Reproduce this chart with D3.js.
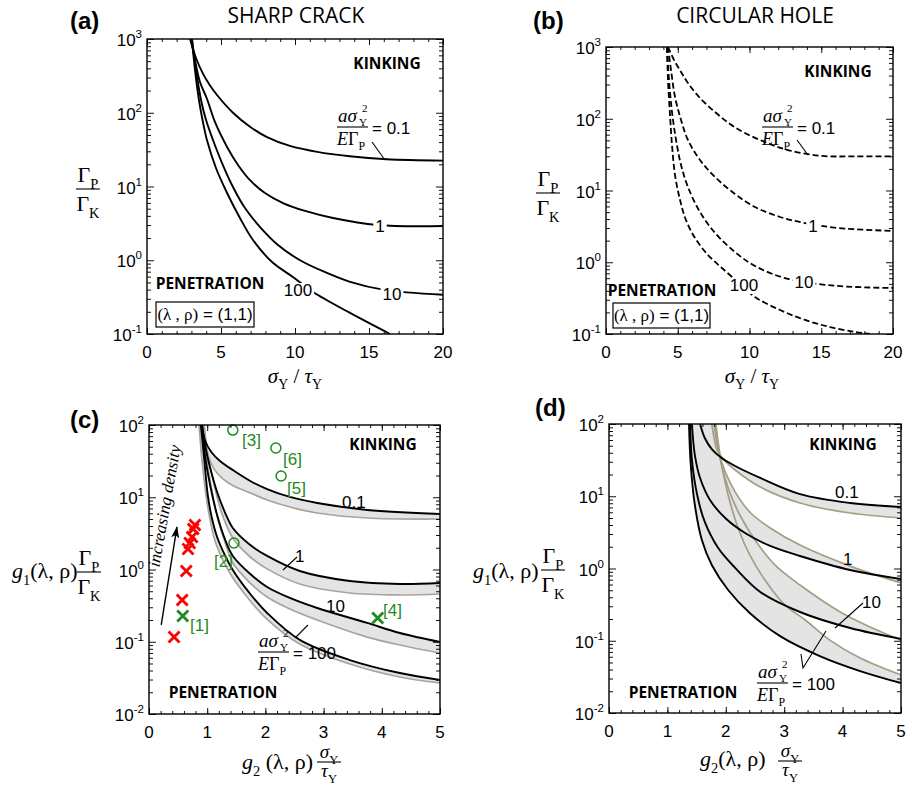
<!DOCTYPE html>
<html>
<head>
<meta charset="utf-8">
<script src="https://cdn.jsdelivr.net/npm/d3@7"></script>
<style>
  body { margin: 0; background: #fff; }
  svg { display: block; }
</style>
</head>
<body>
<script>
/* ----------------------
   Data.
   Each curve is a list of [x, y] pairs.
* ----------------------- */

// (a) sharp crack, a*sY^2/(E*GP) = 0.1, 1, 10, 100
const crack01  = [[2.91,1000],[3.31,552],[3.78,339],[4.26,234],[4.73,174],[5.81,100],[6.96,64.6],[8.11,46.8],[9.66,35.5],[11.5,29.5],[13.7,25.7],[16.2,23.4],[20,22.4]];
const crack1   = [[2.97,1000],[3.24,519],[3.58,261],[4.05,155],[4.59,75],[5.41,34.4],[6.15,19.6],[6.96,12.2],[7.97,8.17],[9.19,5.97],[10.68,4.66],[12.57,3.74],[15.54,3.01],[20,2.91]];
const crack10  = [[3.04,1000],[3.31,380],[3.65,149],[3.99,79.8],[4.46,42.7],[5.07,20.8],[5.81,9.84],[6.62,5.1],[7.64,2.82],[8.85,1.61],[10.34,1.0],[12.03,0.69],[13.72,0.51],[15.95,0.40],[20,0.34]];
const crack100 = [[3.04,1000],[3.24,380],[3.51,149],[3.78,75],[4.05,42.7],[4.66,17.8],[5.41,8.17],[6.28,3.74],[7.16,1.88],[8.45,0.946],[9.86,0.593],[11.22,0.371],[13.72,0.193],[16.42,0.1]];

// (b) circular hole
const hole01  = [[4.32,1000],[4.74,659],[5.23,449],[5.71,315],[6.55,195],[7.6,124],[8.64,84.5],[9.69,63.2],[11.08,47.4],[12.68,36.6],[15.05,30.3],[17.35,29.9],[20,29.9]];
const hole1   = [[4.32,1000],[4.53,478],[4.81,201],[5.23,96.1],[5.71,50.6],[6.55,26.6],[7.6,15.4],[8.99,8.93],[10.38,5.89],[12.13,4.27],[13.87,3.52],[16.17,3.0],[20,2.73]];
const hole10  = [[4.25,1000],[4.39,347],[4.6,124],[4.88,50.6],[5.23,22.6],[5.71,11.2],[6.55,5.01],[7.6,2.56],[8.99,1.39],[10.38,0.887],[12.68,0.585],[16.17,0.467],[20,0.438]];
const hole100 = [[4.25,1000],[4.32,347],[4.46,113],[4.6,43],[4.81,16.4],[5.16,7.38],[5.57,3.88],[6.2,2.18],[7.11,1.26],[8.08,0.832],[9.34,0.498],[10.38,0.328],[12.13,0.216],[13.87,0.157],[15.61,0.125],[17.35,0.107],[18.4,0.1]];

// (c) normalised, sharp crack: black = upper bound, grey = lower bound
const cBlack01  = [[0.91,100],[0.96,61.9],[1.07,42.3],[1.22,31.8],[1.44,23.8],[1.74,16.8],[2.03,13.0],[2.42,10.1],[2.89,8.32],[3.75,6.67],[5,5.86]];
const cGrey01   = [[0.93,100],[0.98,52.8],[1.03,34.9],[1.12,24.5],[1.25,18.5],[1.44,14.5],[1.74,11.5],[2.03,9.16],[2.42,7.33],[2.89,6.05],[3.75,5.16],[5,5.0]];
const cBlack1   = [[0.91,100],[0.98,45.1],[1.07,22.3],[1.17,11.8],[1.31,6.05],[1.44,3.75],[1.74,2.18],[2.03,1.54],[2.59,0.953],[3.45,0.693],[4.31,0.63],[5,0.65]];
const cGrey1    = [[0.95,100],[1.01,38.5],[1.12,14.8],[1.25,6.05],[1.44,2.73],[1.74,1.49],[2.03,1.02],[2.59,0.63],[3.45,0.473],[4.31,0.444],[5,0.458]];
const cBlack10  = [[0.91,100],[0.96,38.5],[1.05,14.8],[1.17,5.68],[1.31,2.56],[1.44,1.54],[1.74,0.867],[2.03,0.573],[2.42,0.404],[2.89,0.293],[3.75,0.182],[4.31,0.132],[5,0.099]];
const cGrey10   = [[0.93,100],[0.98,38.5],[1.07,13.9],[1.17,5.5],[1.31,2.33],[1.44,1.23],[1.74,0.65],[2.03,0.416],[2.42,0.284],[2.89,0.2],[3.75,0.116],[4.31,0.0902],[5,0.0698]];
const cBlack100 = [[0.89,100],[0.95,32.8],[1.01,10.7],[1.08,5.16],[1.17,2.82],[1.31,1.54],[1.44,0.984],[1.74,0.458],[2.03,0.25],[2.59,0.106],[3.45,0.0558],[4.31,0.0369],[5,0.0296]];
const cGrey100  = [[0.86,100],[0.91,32.8],[0.98,10.7],[1.05,4.84],[1.13,2.56],[1.27,1.35],[1.41,0.839],[1.7,0.404],[1.99,0.22],[2.59,0.0931],[3.45,0.0492],[4.31,0.0325],[5,0.0269]];

// (d) normalised, circular hole
const dBlack01  = [[1.56,100],[1.64,64],[1.76,45],[1.93,33.8],[2.16,26.2],[2.59,17.9],[3.27,10.7],[4.13,8.07],[5,7.1]];
const dGrey01   = [[1.76,100],[1.8,64],[1.85,43.7],[1.97,31.8],[2.16,23.1],[2.59,13.4],[3.27,8.07],[4.13,5.86],[5,5.0]];
const dBlack1   = [[1.42,100],[1.47,37.2],[1.56,17.9],[1.73,8.87],[1.99,5.0],[2.33,3.1],[2.76,2.05],[3.27,1.49],[4.13,0.953],[5,0.716]];
const dGrey1    = [[1.8,100],[1.87,43.7],[1.99,21.7],[2.16,11.5],[2.41,6.05],[2.76,3.64],[3.27,2.11],[4.13,1.08],[5,0.63]];
const dBlack10  = [[1.39,100],[1.42,31.8],[1.51,10.4],[1.64,4.41],[1.87,1.92],[2.16,1.02],[2.59,0.473],[3.27,0.25],[4.13,0.15],[5,0.106]];
const dGrey10   = [[1.82,100],[1.9,33.8],[2.04,13.0],[2.24,5.5],[2.5,2.48],[2.84,1.12],[3.27,0.59],[3.96,0.25],[4.47,0.155],[5,0.102]];
const dBlack100 = [[1.37,100],[1.4,27.1],[1.47,7.57],[1.59,2.48],[1.76,1.12],[2.04,0.504],[2.41,0.242],[2.93,0.116],[3.61,0.0615],[4.3,0.0381],[5,0.026]];
const dGrey100  = [[1.83,100],[1.92,29.8],[2.04,10.4],[2.21,3.64],[2.41,1.54],[2.67,0.693],[3.01,0.313],[3.36,0.194],[3.78,0.102],[4.3,0.0577],[5,0.0336]];

// (c) experimental points
const redCrosses   = [[0.43,0.116],[0.57,0.378],[0.64,0.953],[0.67,1.92],[0.70,2.33],[0.74,2.82],[0.76,3.64],[0.79,4.13]];
const greenCrosses = [[0.58,0.227,"[1]"],[3.93,0.213,"[4]"]];
const greenCircles = [[1.46,2.33,"[2]"],[1.44,85,"[3]"],[2.27,19.7,"[5]"],[2.18,48,"[6]"]];
const densityArrow = [[0.21,0.171],[0.48,3.87]];

// tick values
const xTicks20 = [0, 5, 10, 15, 20];
const xTicks5  = [0, 1, 2, 3, 4, 5];

/* ----------------------
   Set up
* ----------------------- */
const SANS  = "'Liberation Sans', Arial, sans-serif";
const SERIF = "'Liberation Serif', 'Times New Roman', serif";
const BOLD  = "'Open Sans', 'Liberation Sans', sans-serif";
const BAND  = "#e4e4e4";
const GREEN = "#1f8a1f";

const svg = d3.select("body").append("svg")
  .attr("width", 913).attr("height", 787);

// text with sub/superscripts: parts = [[string, flags]], i = italic, s = sub, S = sup, n = sans
function rich(g, x, y, parts, size, anchor) {
  const t = g.append("text")
    .attr("x", x).attr("y", y)
    .attr("font-size", size)
    .attr("font-family", SERIF)
    .attr("text-anchor", anchor || "start");
  let cur = 0;
  parts.forEach(([s, fl]) => {
    let off = 0, fs = size;
    if (fl.includes("s")) { off = size * 0.3;   fs = size * 0.66; }
    if (fl.includes("S")) { off = -size * 0.42; fs = size * 0.66; }
    const sp = t.append("tspan").attr("dy", off - cur).attr("font-size", fs).text(s);
    cur = off;
    if (fl.includes("i")) sp.attr("font-style", "italic");
    if (fl.includes("n")) sp.attr("font-family", SANS);
  });
  return t;
}

function makePanel(box, xDom, xMajor, xStep, yDom, id) {
  const x = d3.scaleLinear().domain(xDom).range([box.x0, box.x1]);
  const y = d3.scaleLog().domain(yDom).range([box.y1, box.y0]);
  svg.append("clipPath").attr("id", id).append("rect")
    .attr("x", box.x0).attr("y", box.y0)
    .attr("width", box.x1 - box.x0).attr("height", box.y1 - box.y0);
  const g = svg.append("g");
  const plot = g.append("g").attr("clip-path", `url(#${id})`);
  const xMinor = d3.range(xDom[0], xDom[1] + xStep / 2, xStep);
  return { x, y, g, plot, box, xMajor, xMinor, yDom };
}

function drawFrame(p) {
  const { x, y, g, box } = p;
  const lo = Math.round(Math.log10(p.yDom[0])), hi = Math.round(Math.log10(p.yDom[1]));
  const yMajor = [], yMinor = [];
  for (let e = lo; e <= hi; e++) {
    yMajor.push(Math.pow(10, e));
    if (e < hi) for (let k = 2; k <= 9; k++) yMinor.push(k * Math.pow(10, e));
  }
  const axes = [
    [d3.axisBottom(x).tickValues(p.xMajor).tickSize(-6), `translate(0,${box.y1})`],
    [d3.axisBottom(x).tickValues(p.xMinor).tickSize(-3), `translate(0,${box.y1})`],
    [d3.axisTop(x).tickValues(p.xMajor).tickSize(-6), `translate(0,${box.y0})`],
    [d3.axisTop(x).tickValues(p.xMinor).tickSize(-3), `translate(0,${box.y0})`],
    [d3.axisLeft(y).tickValues(yMajor).tickSize(-7), `translate(${box.x0},0)`],
    [d3.axisLeft(y).tickValues(yMinor).tickSize(-4), `translate(${box.x0},0)`],
    [d3.axisRight(y).tickValues(yMajor).tickSize(-7), `translate(${box.x1},0)`],
    [d3.axisRight(y).tickValues(yMinor).tickSize(-4), `translate(${box.x1},0)`]
  ];
  axes.forEach(([a, tr]) => {
    g.append("g").attr("transform", tr)
      .call(a.tickFormat(""))
      .call(s => s.select(".domain").remove())
      .selectAll("line").attr("stroke", "#111").attr("stroke-width", 1);
  });
  g.append("rect")
    .attr("x", box.x0).attr("y", box.y0)
    .attr("width", box.x1 - box.x0).attr("height", box.y1 - box.y0)
    .attr("fill", "none").attr("stroke", "#000").attr("stroke-width", 1.4);

  p.xMajor.forEach(v => {
    g.append("text").attr("x", x(v)).attr("y", box.y1 + 24)
      .attr("text-anchor", "middle").attr("font-family", SANS).attr("font-size", 17)
      .text(v);
  });
  yMajor.forEach(v => {
    const e = Math.round(Math.log10(v));
    const t = g.append("text").attr("x", box.x0 - 5).attr("y", y(v) + 7)
      .attr("text-anchor", "end").attr("font-family", SANS).attr("font-size", 17);
    t.append("tspan").text("10");
    t.append("tspan").attr("dy", -8).attr("font-size", 11.5).text(e);
  });
}

const line = (p) => d3.line()
  .x(d => p.x(d[0])).y(d => p.y(d[1]))
  .curve(d3.curveCatmullRom.alpha(0.5));

function curve(p, data, color, width, dash) {
  p.plot.append("path")
    .attr("d", line(p)(data))
    .attr("fill", "none")
    .attr("stroke", color)
    .attr("stroke-width", width)
    .attr("stroke-dasharray", dash || null);
}

// band between black (upper) and grey (lower) curve
function band(p, upper, lower) {
  const l = line(p);
  const d = l(upper) + l(lower.slice().reverse()).replace(/^M/, "L") + "Z";
  p.plot.append("path").attr("d", d).attr("fill", BAND).attr("stroke", "none");
}

// label that knocks a white hole in the curve under it
function gapLabel(g, x, y, txt) {
  const t = g.append("text").attr("x", x).attr("y", y)
    .attr("text-anchor", "middle").attr("font-family", SANS).attr("font-size", 17)
    .text(txt);
  const bb = t.node().getBBox();
  g.insert("rect", () => t.node())
    .attr("x", bb.x - 2).attr("y", bb.y + 2)
    .attr("width", bb.width + 4).attr("height", bb.height - 3)
    .attr("fill", "#fff");
}

function plainLabel(g, x, y, txt, color) {
  g.append("text").attr("x", x).attr("y", y)
    .attr("font-family", SANS).attr("font-size", 17)
    .attr("fill", color || "#000").text(txt);
}

function boldLabel(g, x, y, txt) {
  g.append("text").attr("x", x).attr("y", y)
    .attr("text-anchor", "middle")
    .attr("font-family", BOLD).attr("font-weight", 700).attr("font-size", 15.5)
    .text(txt);
}

function leader(g, pts) {
  g.append("path").attr("d", d3.line()(pts))
    .attr("fill", "none").attr("stroke", "#000").attr("stroke-width", 1.1);
}

// a*sigma_Y^2 / (E Gamma_P) = rhs; L = left of bar, B = bar y
function aFrac(g, L, B, rhs) {
  rich(g, L + 1, B - 5, [["aσ", "i"]], 19);
  rich(g, L + 22, B - 1, [["Y", ""]], 11);
  rich(g, L + 25, B - 15, [["2", ""]], 11);
  g.append("line").attr("x1", L).attr("x2", L + 31).attr("y1", B).attr("y2", B)
    .attr("stroke", "#000").attr("stroke-width", 1.1);
  rich(g, L, B + 18, [["E", "i"], ["Γ", ""], ["P", "s"]], 18);
  plainLabel(g, L + 35, B + 7, rhs);
}

function gammaFrac(g, cx, B) {
  rich(g, cx, B - 7, [["Γ", ""], ["P", "s"]], 22, "middle");
  g.append("line").attr("x1", cx - 12).attr("x2", cx + 12).attr("y1", B).attr("y2", B)
    .attr("stroke", "#000").attr("stroke-width", 1.1);
  rich(g, cx, B + 22, [["Γ", ""], ["K", "s"]], 22, "middle");
}

function sigmaTauFrac(g, cx, B) {
  rich(g, cx, B - 4, [["σ", "i"], ["Y", "s"]], 19, "middle");
  g.append("line").attr("x1", cx - 12).attr("x2", cx + 12).attr("y1", B).attr("y2", B)
    .attr("stroke", "#000").attr("stroke-width", 1.1);
  rich(g, cx, B + 15, [["τ", "i"], ["Y", "s"]], 19, "middle");
}

function lambdaBox(g, x0, y0, w, h) {
  g.append("rect").attr("x", x0).attr("y", y0).attr("width", w).attr("height", h)
    .attr("fill", "#fff").attr("stroke", "#000").attr("stroke-width", 1.2);
  rich(g, x0 + w / 2, y0 + h - 7,
    [["(λ , ρ)", ""], [" = (1,1)", "n"]], 17, "middle");
}

function panelTitle(x, y, txt) {
  svg.append("text").attr("x", x).attr("y", y)
    .attr("font-family", SANS).attr("font-weight", 700).attr("font-size", 24)
    .text(txt);
}

/* ----------------------
   (a) sharp crack
* ----------------------- */
const pa = makePanel({ x0: 147, x1: 443, y0: 39, y1: 334 }, [0, 20], xTicks20, 1, [0.1, 1000], "clipA");
[crack01, crack1, crack10, crack100].forEach(d => curve(pa, d, "#000", 1.9));
gapLabel(pa.g, 380, 232, "1");
gapLabel(pa.g, 392, 300, "10");
gapLabel(pa.g, 298, 296, "100");
aFrac(pa.g, 337, 127, "= 0.1");
leader(pa.g, [[372, 142], [385, 160]]);
boldLabel(pa.g, 387, 69, "KINKING");
boldLabel(pa.g, 210, 289, "PENETRATION");
lambdaBox(pa.g, 156, 302, 98, 25);
drawFrame(pa);
panelTitle(70, 29, "(a)");
svg.append("text").attr("x", 296).attr("y", 23).attr("text-anchor", "middle")
  .attr("font-family", BOLD).attr("font-size", 21).text("SHARP CRACK");
gammaFrac(svg, 88, 189);
rich(svg, 295, 383, [["σ", "i"], ["Y", "s"], [" / ", ""], ["τ", "i"], ["Y", "s"]], 21, "middle");

/* ----------------------
   (b) circular hole
* ----------------------- */
const pb = makePanel({ x0: 606, x1: 893, y0: 47, y1: 334 }, [0, 20], xTicks20, 1, [0.1, 1000], "clipB");
[hole01, hole1, hole10, hole100].forEach(d => curve(pb, d, "#000", 1.8, "6,3"));
gapLabel(pb.g, 813, 232, "1");
gapLabel(pb.g, 804, 288, "10");
gapLabel(pb.g, 744, 291, "100");
aFrac(pb.g, 762, 127, "= 0.1");
leader(pb.g, [[797, 140], [808, 155]]);
boldLabel(pb.g, 838, 77, "KINKING");
boldLabel(pb.g, 662, 296, "PENETRATION");
lambdaBox(pb.g, 613, 303, 97, 25);
drawFrame(pb);
panelTitle(533, 29, "(b)");
svg.append("text").attr("x", 755).attr("y", 23).attr("text-anchor", "middle")
  .attr("font-family", BOLD).attr("font-size", 21).text("CIRCULAR HOLE");
gammaFrac(svg, 548, 193);
rich(svg, 752, 383, [["σ", "i"], ["Y", "s"], [" / ", ""], ["τ", "i"], ["Y", "s"]], 21, "middle");

/* ----------------------
   (c) normalised, sharp crack
* ----------------------- */
const pc = makePanel({ x0: 149, x1: 440, y0: 425, y1: 714 }, [0, 5], xTicks5, 0.2, [0.01, 100], "clipC");
const cBands = [[cBlack01, cGrey01], [cBlack1, cGrey1], [cBlack10, cGrey10], [cBlack100, cGrey100]];
cBands.forEach(([b, gr]) => band(pc, b, gr));
cBands.forEach(([b, gr]) => curve(pc, gr, "#aaa39a", 1.7));
cBands.forEach(([b, gr]) => curve(pc, b, "#000", 1.9));

// experimental data
const cross = (g, cx, cy, r, color, w) => {
  g.append("path")
    .attr("d", `M${cx - r},${cy - r}L${cx + r},${cy + r}M${cx - r},${cy + r}L${cx + r},${cy - r}`)
    .attr("stroke", color).attr("stroke-width", w).attr("fill", "none");
};
redCrosses.forEach(d => cross(pc.g, pc.x(d[0]), pc.y(d[1]), 5.5, "#ff0000", 2.8));
greenCrosses.forEach(d => cross(pc.g, pc.x(d[0]), pc.y(d[1]), 5.5, GREEN, 2.8));
greenCircles.forEach(d => {
  pc.g.append("circle").attr("cx", pc.x(d[0])).attr("cy", pc.y(d[1])).attr("r", 5)
    .attr("fill", "none").attr("stroke", GREEN).attr("stroke-width", 1.5);
});
const refPos = { "[1]": [190, 631], "[2]": [214, 567], "[3]": [242, 446], "[4]": [383, 616], "[5]": [287, 494], "[6]": [283, 465] };
greenCrosses.concat(greenCircles).forEach(d => {
  pc.g.append("text").attr("x", refPos[d[2]][0]).attr("y", refPos[d[2]][1])
    .attr("font-family", SANS).attr("font-size", 17).attr("fill", GREEN).text(d[2]);
});

svg.append("defs").append("marker")
  .attr("id", "arrowHead").attr("viewBox", "0 0 12 8")
  .attr("refX", 11).attr("refY", 4)
  .attr("markerWidth", 12).attr("markerHeight", 8)
  .attr("markerUnits", "userSpaceOnUse")
  .attr("orient", "auto")
  .append("path").attr("d", "M0,0L12,4L0,8L3,4Z").attr("fill", "#000");
pc.g.append("line")
  .attr("x1", pc.x(densityArrow[0][0])).attr("y1", pc.y(densityArrow[0][1]))
  .attr("x2", pc.x(densityArrow[1][0])).attr("y2", pc.y(densityArrow[1][1]))
  .attr("stroke", "#000").attr("stroke-width", 1.4)
  .attr("marker-end", "url(#arrowHead)");
pc.g.append("text")
  .attr("transform", "translate(170,507) rotate(-80)")
  .attr("text-anchor", "middle")
  .attr("font-family", SERIF).attr("font-style", "italic").attr("font-size", 17)
  .text("increasing density");

plainLabel(pc.g, 342, 508, "0.1");
plainLabel(pc.g, 295, 562, "1");
plainLabel(pc.g, 326, 612, "10");
leader(pc.g, [[283, 570], [297, 557]]);
leader(pc.g, [[295, 638], [308, 625]]);
aFrac(pc.g, 258, 652, "= 100");
boldLabel(pc.g, 383, 450, "KINKING");
boldLabel(pc.g, 223, 698, "PENETRATION");
drawFrame(pc);
panelTitle(70, 428, "(c)");
rich(svg, 12, 578, [["g", "i"], ["1", "s"], ["(λ, ρ)", ""]], 22);
gammaFrac(svg, 89, 572);
rich(svg, 242, 769, [["g", "i"], ["2", "s"], [" (λ, ρ)", ""]], 22);
sigmaTauFrac(svg, 329, 762);

/* ----------------------
   (d) normalised, circular hole
* ----------------------- */
const pd = makePanel({ x0: 609, x1: 901, y0: 424, y1: 713 }, [0, 5], xTicks5, 0.2, [0.01, 100], "clipD");
const dBands = [[dBlack01, dGrey01], [dBlack1, dGrey1], [dBlack10, dGrey10], [dBlack100, dGrey100]];
dBands.forEach(([b, gr]) => band(pd, b, gr));
dBands.forEach(([b, gr]) => curve(pd, gr, "#a49e85", 1.7));
dBands.forEach(([b, gr]) => curve(pd, b, "#000", 1.9));
plainLabel(pd.g, 835, 498, "0.1");
plainLabel(pd.g, 843, 565, "1");
plainLabel(pd.g, 862, 608, "10");
leader(pd.g, [[835, 628], [863, 603]]);
leader(pd.g, [[801, 654], [803, 668], [826, 631]]);
aFrac(pd.g, 757, 683, "= 100");
boldLabel(pd.g, 843, 450, "KINKING");
boldLabel(pd.g, 683, 698, "PENETRATION");
drawFrame(pd);
panelTitle(535, 416, "(d)");
rich(svg, 473, 578, [["g", "i"], ["1", "s"], ["(λ, ρ)", ""]], 22);
gammaFrac(svg, 553, 570);
rich(svg, 700, 766, [["g", "i"], ["2", "s"], ["(λ, ρ)", ""]], 22);
sigmaTauFrac(svg, 790, 761);
</script>
</body>
</html>
